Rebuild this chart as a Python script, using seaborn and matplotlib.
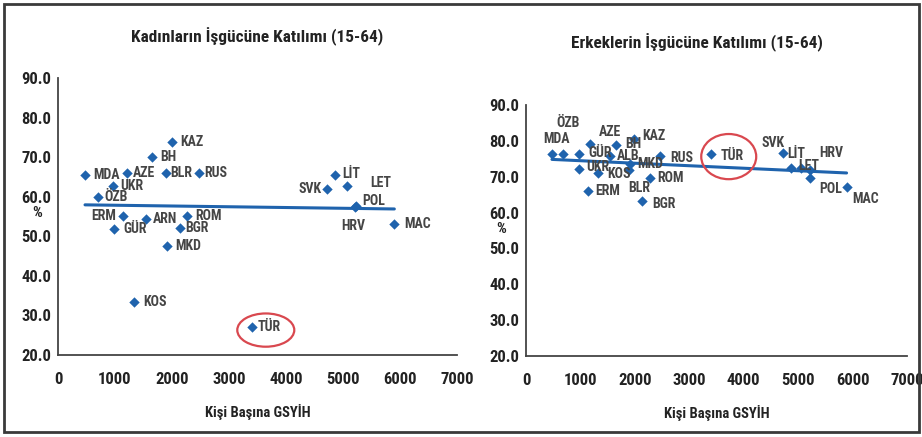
import matplotlib
matplotlib.use("Agg")
import matplotlib.pyplot as plt
from matplotlib.patches import Ellipse, Rectangle
from matplotlib import font_manager
import seaborn as sns
import pandas as pd

# ---- data ----
countries_f = ["MDA", "AZE", "UKR", "ÖZB", "ERM", "GÜR", "ARN", "BH", "KAZ", "BLR", "RUS",
               "ROM", "BGR", "MKD", "SVK", "LİT", "LET", "POL", "HRV", "MAC", "KOS", "TÜR"]
gdp_f = [474, 1210, 965, 700, 1140, 982, 1540, 1650, 2000, 1890, 2470,
         2260, 2140, 1910, 4720, 4860, 5070, 5230, 5210, 5900, 1330, 3400]
female = [65.4, 66.1, 62.8, 60.0, 55.2, 51.9, 54.4, 70.1, 73.7, 66.1, 66.1,
          55.2, 52.1, 47.6, 62.0, 65.6, 62.8, 57.6, 57.4, 53.2, 33.4, 27.1]

countries_m = ["MDA", "ÖZB", "GÜR", "AZE", "ALB", "BH", "KAZ", "UKR", "KOS", "MKD", "BLR",
               "BGR", "ROM", "RUS", "ERM", "TÜR", "SVK", "LİT", "LET", "HRV", "POL", "MAC"]
gdp_m = [477, 680, 975, 1175, 1545, 1650, 1980, 965, 1320, 1910, 1890,
         2135, 2285, 2460, 1140, 3395, 4730, 4860, 5050, 5210, 5210, 5890]
male = [76.4, 76.4, 76.4, 79.0, 75.8, 78.9, 80.6, 72.2, 71.1, 73.5, 72.0,
        63.2, 69.7, 75.8, 66.0, 76.4, 76.6, 72.5, 72.5, 71.9, 69.5, 67.2]

title_f = "Kadınların İşgücüne Katılımı (15-64)"
title_m = "Erkeklerin İşgücüne Katılımı (15-64)"
xlabel = "Kişi Başına GSYİH"
xticks = [0, 1000, 2000, 3000, 4000, 5000, 6000, 7000]
yticks = [20, 30, 40, 50, 60, 70, 80, 90]

# ---- label offsets (pixels) ----
off_f = {"MDA": (8, 0, "left"), "AZE": (6, 0, "left"), "UKR": (7, 0, "left"), "ÖZB": (6, 0, "left"),
         "ERM": (-7, 0, "right"), "GÜR": (9, 0, "left"), "ARN": (7, 0, "left"), "BH": (8, 0, "left"),
         "KAZ": (8, 0, "left"), "BLR": (5, 0, "left"), "RUS": (5, 0, "left"), "ROM": (8, 0, "left"),
         "BGR": (5, 0, "left"), "MKD": (8, 0, "left"), "SVK": (-5, 0, "right"), "LİT": (7, 1, "left"),
         "LET": (23, 3, "left"), "POL": (6, 5, "left"), "HRV": (-2, -19, "center"), "MAC": (10, 0, "left"),
         "KOS": (9, 0, "left"), "TÜR": (6, 0, "left")}
off_m = {"MDA": (5, 15, "center"), "ÖZB": (5, 31, "center"), "GÜR": (9, 1, "left"), "AZE": (9, 12, "left"),
         "ALB": (7, 0, "left"), "BH": (9, 1, "left"), "KAZ": (8, 3, "left"), "UKR": (8, 2, "left"),
         "KOS": (9, -1, "left"), "MKD": (7, 0, "left"), "BLR": (10, -18, "center"), "BGR": (10, -3, "left"),
         "ROM": (7, 0, "left"), "RUS": (10, -2, "left"), "ERM": (7, 0, "left"), "TÜR": (10, -2, "left"),
         "SVK": (1, 10, "right"), "LİT": (-3, 14, "left"), "LET": (-3, 2, "left"), "HRV": (10, 17, "left"),
         "POL": (10, -11, "left"), "MAC": (6, -12, "left")}

sns.set_style("white")
installed = {f.name for f in font_manager.fontManager.ttflist}
fams = [f for f in ["Liberation Sans Narrow", "Roboto Condensed", "Liberation Sans", "DejaVu Sans"] if f in installed]
plt.rcParams["font.family"] = fams + ["DejaVu Sans"]

BLUE = "#1f63ad"
TXT = "#222222"
LBL = "#454545"

fig = plt.figure(figsize=(9.22, 4.37), dpi=100)
ax1 = fig.add_axes([0.0629, 0.1876, 0.4328, 0.634])
ax2 = fig.add_axes([0.5705, 0.1854, 0.4132, 0.5744])

df_f = pd.DataFrame({"c": countries_f, "x": gdp_f, "y": female})
df_m = pd.DataFrame({"c": countries_m, "x": gdp_m, "y": male})


def draw(ax, df, offs, ell_w, ell_h, ell_dx, pct_x, pct_y):
    sns.regplot(data=df, x="x", y="y", ax=ax, ci=None, marker="D",
                scatter_kws={"s": 28, "color": BLUE, "zorder": 3, "linewidths": 0, "alpha": 1},
                line_kws={"color": BLUE, "lw": 2.2, "zorder": 2})
    for _, r in df.iterrows():
        dx, dy, ha = offs[r["c"]]
        ax.annotate(r["c"], (r["x"], r["y"]), xytext=(dx, dy), textcoords="offset pixels",
                    ha=ha, va="center", fontsize=10, color=LBL, fontweight="bold", zorder=4)
    t = df[df["c"] == "TÜR"].iloc[0]
    ax.add_patch(Ellipse((t["x"] + ell_dx, t["y"] - 0.8), ell_w, ell_h, fill=False,
                         ec="#d9484f", lw=1.6, zorder=5, clip_on=False))
    ax.set_xlim(0, 7000)
    ax.set_ylim(20, 90)
    ax.set_xticks(xticks)
    ax.set_yticks(yticks)
    ax.set_xticklabels([str(v) for v in xticks], fontsize=12, fontweight="bold", color=TXT)
    ax.set_yticklabels([f"{v:.1f}" for v in yticks], fontsize=12, fontweight="bold", color=TXT)
    ax.set_xlabel(xlabel, fontsize=10.5, fontweight="bold", color=TXT, labelpad=12)
    ax.set_ylabel("")
    ax.annotate("%", (0, pct_y), xycoords=("axes fraction", "data"), xytext=(pct_x, 0),
                textcoords="offset pixels", ha="center", va="center",
                fontsize=11, fontweight="bold", color=TXT, annotation_clip=False)
    for s in ["top", "right"]:
        ax.spines[s].set_visible(False)
    for s in ["left", "bottom"]:
        ax.spines[s].set_color("#444444")
        ax.spines[s].set_linewidth(1.3)
    ax.tick_params(axis="y", direction="out", length=4, width=1.1, color="#444444", pad=1)
    ax.tick_params(axis="x", direction="inout", length=5, width=1.1, color="#444444", pad=10)


draw(ax1, df_f, off_f, 1000, 8.4, 245, -21, 56.0)
draw(ax2, df_m, off_m, 1010, 12.6, 330, -25, 55.3)

fig.text(0.279, 0.915, title_f, ha="center", va="center", fontsize=12.4, fontweight="bold", color=TXT)
fig.text(0.756, 0.903, title_m, ha="center", va="center", fontsize=12.4, fontweight="bold", color=TXT)

fig.patches.append(Rectangle((0.004, 0.012), 0.993, 0.978, transform=fig.transFigure,
                             fill=False, ec="#3a3a3a", lw=2.0))

fig.savefig("out.png", dpi=100)
